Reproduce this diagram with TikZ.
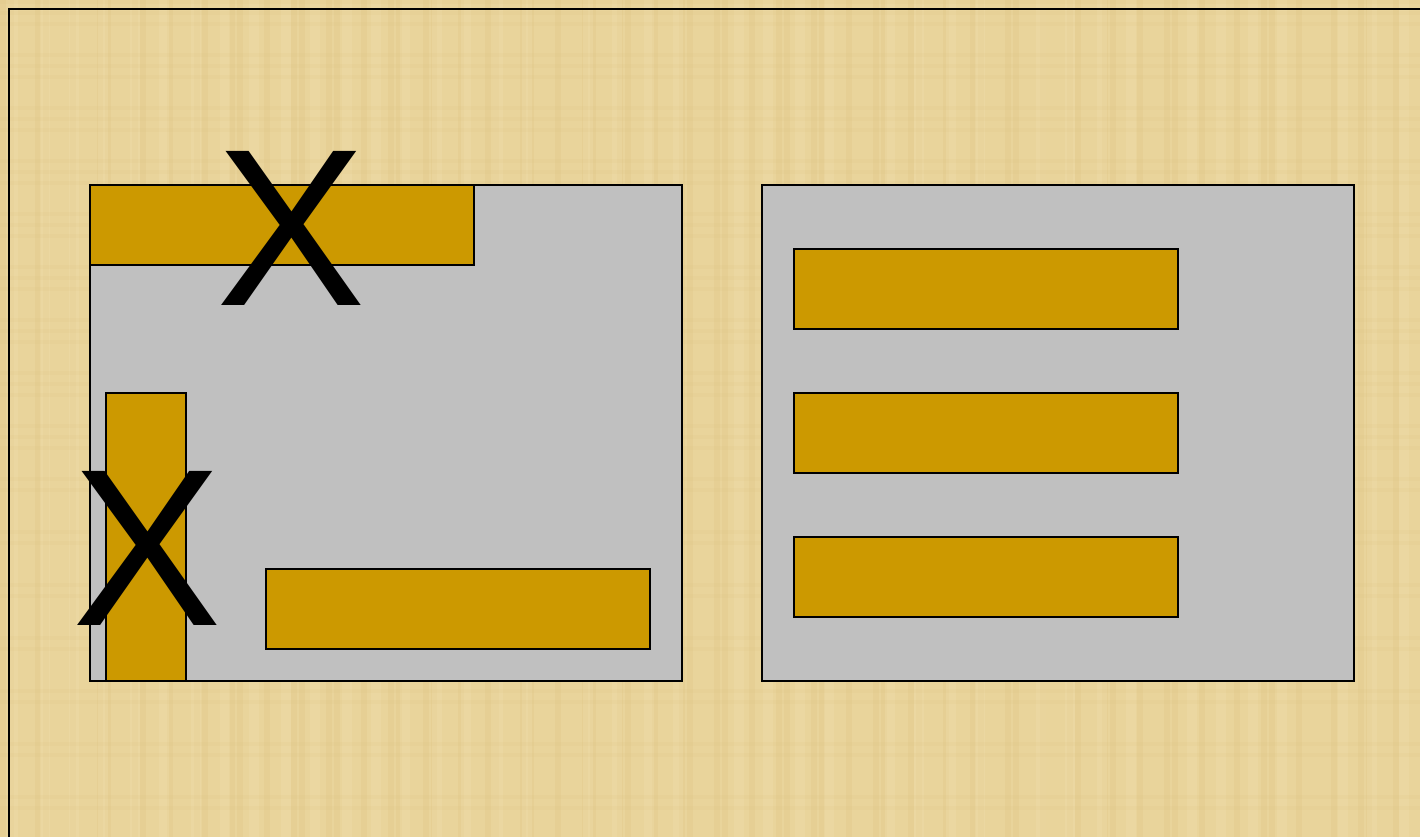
\documentclass[tikz,border=0pt]{standalone}
\usepackage{fontspec}
\setmainfont{Liberation Sans}
\definecolor{papyrus}{RGB}{233,212,155}
\definecolor{papyrusdark}{RGB}{222,196,130}
\definecolor{papyruslight}{RGB}{242,225,175}
\definecolor{panelgray}{RGB}{192,192,192}
\definecolor{gold}{RGB}{204,153,0}
\tikzset{
  panel/.style={draw=black, line width=2pt, fill=panelgray, inner sep=0pt, anchor=north west},
  bar/.style={draw=black, line width=2pt, fill=gold, inner sep=0pt, anchor=north west},
  cross/.style={inner sep=0pt, font=\fontsize{224}{224}\selectfont, text=black}
}
\begin{document}
\begin{tikzpicture}[x=1pt,y=-1pt]
\useasboundingbox (0,0) rectangle (1420,837);
\fill[papyrus] (0,0) rectangle (1420,837);
% faint texture streaks
\foreach \i in {0,...,70} {
  \pgfmathsetmacro{\xx}{mod(\i*97,1420)}
  \fill[papyrusdark, opacity=0.25] (\xx,0) rectangle ++(6,837);
}
\foreach \i in {0,...,40} {
  \pgfmathsetmacro{\xx}{mod(\i*151+40,1420)}
  \fill[papyruslight, opacity=0.3] (\xx,0) rectangle ++(10,837);
}
\foreach \j in {0,...,40} {
  \pgfmathsetmacro{\yy}{mod(\j*53,837)}
  \fill[papyrusdark, opacity=0.15] (0,\yy) rectangle ++(1420,4);
}
% frame (left and top)
\draw[line width=2.2pt] (9,837) -- (9,9) -- (1420,9);
% left panel
\node[panel, minimum width=592pt, minimum height=496pt] (lp) at (89,184) {};
\node[bar, minimum width=384pt, minimum height=80pt] (lt) at (89,184) {};
\node[bar, minimum width=80pt, minimum height=288pt] (lv) at (105,392) {};
\node[bar, minimum width=384pt, minimum height=80pt] (lb) at (265,568) {};
\node[cross] (x1) at (291.5,228.5) {X};
\node[cross] (x2) at (147,548.5) {X};
% right panel
\node[panel, minimum width=592pt, minimum height=496pt] (rp) at (761,184) {};
\node[bar, minimum width=384pt, minimum height=80pt] (r1) at (793,248) {};
\node[bar, minimum width=384pt, minimum height=80pt] (r2) at (793,392) {};
\node[bar, minimum width=384pt, minimum height=80pt] (r3) at (793,536) {};
\end{tikzpicture}
\end{document}
